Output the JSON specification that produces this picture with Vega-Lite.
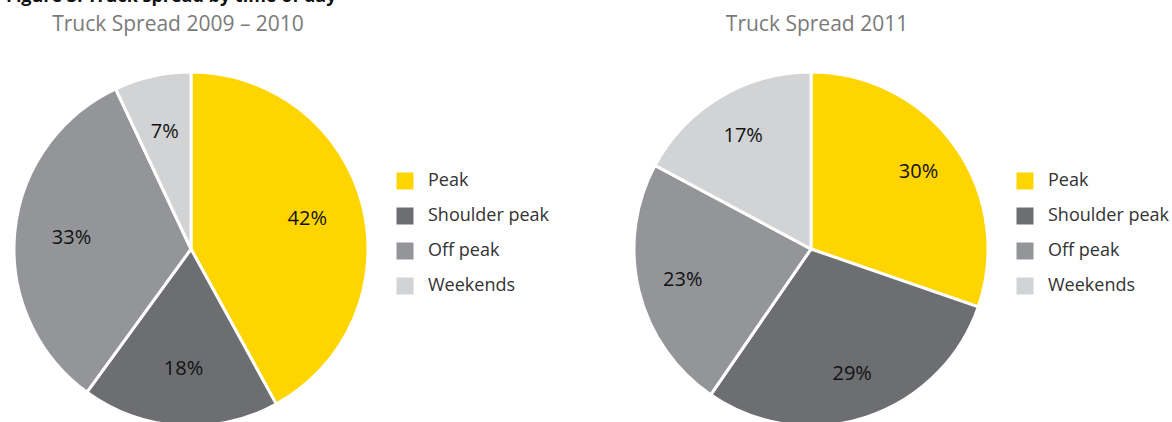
{
  "$schema": "https://vega.github.io/schema/vega-lite/v6.json",
  "background": "white",
  "padding": {"left": 6, "top": -12, "right": 0, "bottom": 0},
  "autosize": {"type": "pad"},
  "config": {
    "view": {"stroke": null},
    "font": "Open Sans"
  },
  "title": {"text": "Figure 3: Truck spread by time of day", "fontSize": 18, "fontWeight": "bold", "color": "#111111", "anchor": "start", "frame": "group", "dx": -8, "baseline": "alphabetic", "offset": -6},
  "datasets": {
    "y2010": [
      {"period": "Peak", "rank": 1, "share": 0.42},
      {"period": "Shoulder peak", "rank": 2, "share": 0.18},
      {"period": "Off peak", "rank": 3, "share": 0.33},
      {"period": "Weekends", "rank": 4, "share": 0.07}
    ],
    "y2011": [
      {"period": "Peak", "rank": 1, "share": 0.30},
      {"period": "Shoulder peak", "rank": 2, "share": 0.29},
      {"period": "Off peak", "rank": 3, "share": 0.23},
      {"period": "Weekends", "rank": 4, "share": 0.17}
    ]
  },
  "bounds": "flush",
  "spacing": 266,
  "resolve": {"scale": {"color": "independent"}, "legend": {"color": "independent"}},
  "hconcat": [
    {
      "data": {"name": "y2010"},
      "width": 354,
      "height": 354,
      "title": {"text": "Truck Spread 2009 – 2010", "fontSize": 21, "fontWeight": "normal", "color": "#7a7a7a", "anchor": "middle", "dx": -13, "baseline": "alphabetic", "offset": 14},
      "encoding": {
        "theta": {"field": "share", "type": "quantitative", "stack": true},
        "order": {"field": "rank", "type": "quantitative"}
      },
      "layer": [
        {
          "mark": {"type": "arc", "stroke": "white", "strokeWidth": 3},
          "encoding": {
            "color": {
              "field": "period", "type": "nominal",
              "scale": {"domain": ["Peak", "Shoulder peak", "Off peak", "Weekends"], "range": ["#FFD500", "#6D6E71", "#939598", "#D1D3D4"]},
              "legend": {"title": null, "orient": "none", "legendX": 382, "legendY": 100, "symbolType": "square", "symbolSize": 289, "symbolStrokeWidth": 0, "labelFontSize": 18, "labelColor": "#333333", "labelOffset": 14, "rowPadding": 17, "labelFont": "Open Sans"}
            }
          }
        },
        {
          "mark": {"type": "text", "radius": 120, "fontSize": 20, "fill": "#111111"},
          "encoding": {
            "detail": {"field": "period", "type": "nominal"},
            "text": {"field": "share", "type": "quantitative", "format": ".0%"}
          }
        }
      ]
    },
    {
      "data": {"name": "y2011"},
      "width": 354,
      "height": 354,
      "title": {"text": "Truck Spread 2011", "fontSize": 21, "fontWeight": "normal", "color": "#7a7a7a", "anchor": "middle", "dx": 6, "baseline": "alphabetic", "offset": 14},
      "encoding": {
        "theta": {"field": "share", "type": "quantitative", "stack": true},
        "order": {"field": "rank", "type": "quantitative"}
      },
      "layer": [
        {
          "mark": {"type": "arc", "stroke": "white", "strokeWidth": 3},
          "encoding": {
            "color": {
              "field": "period", "type": "nominal",
              "scale": {"domain": ["Peak", "Shoulder peak", "Off peak", "Weekends"], "range": ["#FFD500", "#6D6E71", "#939598", "#D1D3D4"]},
              "legend": {"title": null, "orient": "none", "legendX": 382, "legendY": 100, "symbolType": "square", "symbolSize": 289, "symbolStrokeWidth": 0, "labelFontSize": 18, "labelColor": "#333333", "labelOffset": 14, "rowPadding": 17, "labelFont": "Open Sans"}
            }
          }
        },
        {
          "mark": {"type": "text", "radius": 132, "fontSize": 20, "fill": "#111111"},
          "encoding": {
            "detail": {"field": "period", "type": "nominal"},
            "text": {"field": "share", "type": "quantitative", "format": ".0%"}
          }
        }
      ]
    }
  ]
}
